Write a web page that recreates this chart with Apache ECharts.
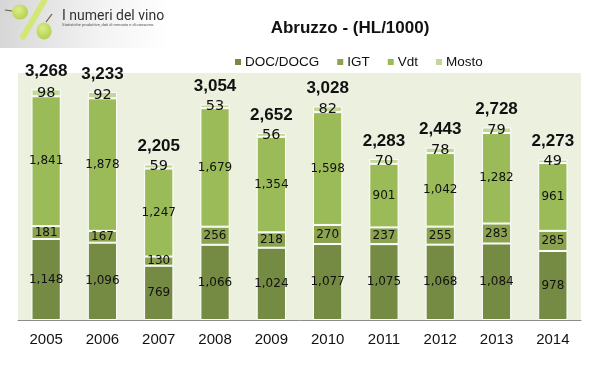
<!DOCTYPE html>
<html>
<head>
<meta charset="utf-8">
<script src="https://cdn.jsdelivr.net/npm/echarts@6/dist/echarts.min.js"></script>
<style>
  html, body { margin: 0; padding: 0; background: #fff; }
  #grafico { width: 599px; height: 376px; }
</style>
</head>
<body>
<div id="grafico"></div>
<script>
// dati Abruzzo (HL/1000)
var anni = ['2005', '2006', '2007', '2008', '2009', '2010', '2011', '2012', '2013', '2014'];
var doc = [1148, 1096, 769, 1066, 1024, 1077, 1075, 1068, 1084, 978];
var igt = [181, 167, 130, 256, 218, 270, 237, 255, 283, 285];
var vdt = [1841, 1878, 1247, 1679, 1354, 1598, 901, 1042, 1282, 961];
var mosto = [98, 92, 59, 53, 56, 82, 70, 78, 79, 49];
var totali = [3268, 3233, 2205, 3054, 2652, 3028, 2283, 2443, 2728, 2273];

var colori = ['#758a42', '#8ba24f', '#9bbb59', '#c3d69b'];

function numero(v) {
    return v.toLocaleString('en-US');
}

function serieBarre(nome, datos, colore, size) {
    return {
        name: nome,
        type: 'bar',
        stack: 'tot',
        barWidth: '52%',
        data: datos,
        itemStyle: {
            color: colore,
            borderColor: '#ffffff',
            borderWidth: 1
        },
        label: {
            show: true,
            position: 'inside',
            fontFamily: 'DejaVu Sans',
            fontSize: size,
            color: '#111',
            formatter: function(p) { return numero(p.value); }
        }
    };
}

var grappolo = new echarts.graphic.RadialGradient(0.4, 0.35, 0.7, [
    { offset: 0, color: '#dbee8a' },
    { offset: 1, color: '#b3d04e' }
]);

var myChart = echarts.init(document.getElementById('grafico'));
var option = {
    animation: false,
    title: {
        text: 'Abruzzo - (HL/1000)',
        left: 345,
        textAlign: 'center',
        top: 15,
        textStyle: {
            fontFamily: 'Liberation Sans',
            fontSize: 17,
            fontWeight: 'bold',
            color: '#111'
        }
    },
    legend: {
        data: ['DOC/DOCG', 'IGT', 'Vdt', 'Mosto'],
        left: 228,
        top: 50,
        itemWidth: 8,
        itemHeight: 8,
        itemGap: 16,
        icon: 'rect',
        textStyle: {
            fontFamily: 'Liberation Sans',
            fontSize: 13.5,
            color: '#111',
            padding: [0, 0, 0, -2]
        }
    },
    grid: {
        left: 18,
        right: 18,
        top: 73,
        bottom: 56,
        show: true,
        backgroundColor: '#ebf0df',
        borderWidth: 0
    },
    xAxis: {
        type: 'category',
        data: anni,
        axisTick: { show: false },
        axisLine: { lineStyle: { color: '#8c8c8c', width: 1 } },
        axisLabel: {
            margin: 12,
            fontFamily: 'Liberation Sans',
            fontSize: 15,
            color: '#111'
        }
    },
    yAxis: {
        type: 'value',
        min: 0,
        max: 3500,
        show: false,
        splitLine: { show: false }
    },
    graphic: [
        {
            type: 'rect',
            shape: { x: 0, y: 0, width: 170, height: 48 },
            style: {
                fill: new echarts.graphic.LinearGradient(0, 0, 1, 0.3, [
                    { offset: 0, color: '#d6d6d6' },
                    { offset: 0.6, color: '#f3f3f3' },
                    { offset: 1, color: '#ffffff' }
                ])
            },
            z: -1
        },
        {
            type: 'line',
            shape: { x1: 44, y1: 1, x2: 23, y2: 37 },
            style: { stroke: '#d3e777', lineWidth: 6, lineCap: 'round' }
        },
        {
            type: 'ellipse',
            shape: { cx: 20, cy: 12, rx: 8, ry: 7.5 },
            style: { fill: grappolo }
        },
        {
            type: 'ellipse',
            shape: { cx: 44, cy: 31, rx: 7.5, ry: 8.5 },
            style: { fill: grappolo }
        },
        {
            type: 'line',
            shape: { x1: 46, y1: 22, x2: 52, y2: 14 },
            style: { stroke: '#6b5a3a', lineWidth: 1.2 }
        },
        {
            type: 'line',
            shape: { x1: 12, y1: 11, x2: 5, y2: 10 },
            style: { stroke: '#6b5a3a', lineWidth: 1.2 }
        },
        {
            type: 'text',
            left: 62,
            top: 9,
            style: {
                text: 'I numeri del vino',
                fontFamily: 'Roboto',
                fontSize: 14,
                fill: '#333'
            }
        },
        {
            type: 'text',
            left: 62,
            top: 23,
            style: {
                text: 'Statistiche produttive, dati di mercato e di consumo.',
                fontFamily: 'Roboto',
                fontSize: 4,
                fill: '#555'
            }
        }
    ],
    series: [
        serieBarre('DOC/DOCG', doc, colori[0], 12),
        serieBarre('IGT', igt, colori[1], 12),
        serieBarre('Vdt', vdt, colori[2], 12),
        serieBarre('Mosto', mosto, colori[3], 14.5),
        {
            name: 'Totale',
            type: 'line',
            data: totali,
            symbol: 'circle',
            symbolSize: 1,
            itemStyle: { color: 'transparent' },
            lineStyle: { opacity: 0 },
            z: 10,
            label: {
                show: true,
                position: 'top',
                distance: 9,
                fontFamily: 'Liberation Sans',
                fontSize: 17,
                fontWeight: 'bold',
                color: '#111',
                formatter: function(p) { return numero(p.value); }
            }
        }
    ]
};
myChart.setOption(option, true);
</script>
</body>
</html>
